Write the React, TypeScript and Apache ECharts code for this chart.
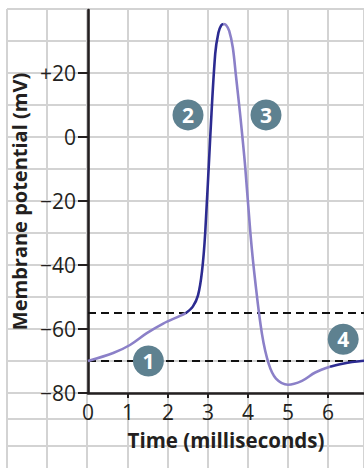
import React, { useEffect, useRef } from "react";
import * as echarts from "echarts";

// Membrane potential trace (time in ms, potential in mV), split by colour
const risingSlow: number[][] = [
  [0, -70], [0.63, -67.5], [1.05, -65], [1.47, -61.3], [1.88, -58.3], [2.3, -55.9], [2.45, -55],
];
const risingFast: number[][] = [
  [2.45, -55], [2.62, -53], [2.75, -49.5], [2.85, -42], [2.93, -30], [3.06, 1],
  [3.18, 26], [3.26, 32.6], [3.33, 34.9], [3.39, 35.3],
];
const falling: number[][] = [
  [3.39, 35.3], [3.45, 35], [3.53, 33.2], [3.62, 28], [3.7, 19], [3.81, 6.3], [3.93, -9.3],
  [4.06, -30], [4.18, -45], [4.35, -61.6], [4.52, -71], [4.7, -75.5],
  [5.0, -77.4], [5.35, -76.2], [5.68, -73.6], [6.05, -71.8],
];
const recovery: number[][] = [
  [6.05, -71.8], [6.3, -71], [6.6, -70.3], [6.9, -69.9],
];
const thresholdLine: number[][] = [[0, -55], [6.9, -55]];
const restingLine: number[][] = [[0, -70], [6.9, -70]];
const badges: (number | string)[][] = [
  [1.51, -70, "1"], [2.5, 6.9, "2"], [4.45, 6.9, "3"], [6.38, -63.2, "4"],
];
const xTickValues = [0, 1, 2, 3, 4, 5, 6];
const yTickValues = [-80, -60, -40, -20, 0, 20];

const LIGHT = "#8b80c8";
const DARK = "#2c2b91";
const INK = "#231f20";
const GRIDC = "#d3d3d3";
const FONT = "Open Sans";

export default function App() {
  const ref = useRef<HTMLDivElement>(null);
  useEffect(() => {
    if (!ref.current) return;
    const chart = echarts.init(ref.current, null, { renderer: "svg" });
    const lineS = (data: number[][], color: string) => ({
      type: "line",
      xAxisIndex: 2,
      yAxisIndex: 2,
      data,
      smooth: 0.35,
      showSymbol: false,
      symbol: "none",
      lineStyle: { color, width: 2.6 },
      z: 3,
    });
    const dashS = (data: number[][]) => ({
      type: "line",
      xAxisIndex: 2,
      yAxisIndex: 2,
      data,
      showSymbol: false,
      symbol: "none",
      lineStyle: { color: "#111", width: 2, type: [8, 5] },
      z: 2,
    });
    chart.setOption({
      animation: false,
      textStyle: { fontFamily: FONT },
      grid: [
        { left: 7, right: 0, top: 9, bottom: 0 },
        { left: 7, right: 0, top: 9, bottom: 75 },
        { left: 88, right: 0, top: 10, bottom: 75 },
      ],
      xAxis: [
        {
          gridIndex: 0, type: "value", min: -2, max: 6.9, interval: 1,
          axisLine: { show: false }, axisTick: { show: false }, axisLabel: { show: false },
          splitLine: { show: true, lineStyle: { color: GRIDC, width: 2 } },
        },
        {
          gridIndex: 1, type: "value", min: -2, max: 6.9, show: false,
        },
        {
          gridIndex: 2, type: "value", min: 0, max: 6.9, interval: 1,
          name: "Time (milliseconds)", nameLocation: "middle", nameGap: 36,
          nameTextStyle: { fontSize: 20.5, fontWeight: "bold", color: INK, fontFamily: FONT },
          axisLine: { show: true, onZero: false, lineStyle: { color: INK, width: 2.6 } },
          axisTick: { show: true, length: 5, lineStyle: { color: INK, width: 2 }, customValues: [1, 2, 3, 4, 5, 6] },
          axisLabel: { fontSize: 21, color: INK, margin: 8, customValues: xTickValues, fontFamily: FONT },
          splitLine: { show: false },
        },
      ],
      yAxis: [
        {
          gridIndex: 0, type: "value", min: 0, max: 1, show: false,
        },
        {
          gridIndex: 1, type: "value", min: -80, max: 40, interval: 10,
          axisLine: { show: false }, axisTick: { show: false }, axisLabel: { show: false },
          splitLine: { show: true, lineStyle: { color: GRIDC, width: 2 } },
        },
        {
          gridIndex: 2, type: "value", min: -80, max: 39.7, interval: 20,
          name: "Membrane potential (mV)", nameLocation: "middle", nameGap: 54,
          nameTextStyle: { fontSize: 20, fontWeight: "bold", color: INK, fontFamily: FONT },
          axisLine: { show: true, onZero: false, lineStyle: { color: INK, width: 2.6 } },
          axisTick: { show: true, length: 10, lineStyle: { color: INK, width: 2 }, customValues: yTickValues },
          axisLabel: {
            fontSize: 21, color: INK, margin: 12, customValues: yTickValues, fontFamily: FONT,
            formatter: (v: number) => (v > 0 ? "+" + v : v < 0 ? "\u2212" + Math.abs(v) : "0"),
          },
          splitLine: { show: false },
        },
      ],
      graphic: [
        { type: "line", shape: { x1: 7, y1: 419, x2: 364, y2: 419 }, style: { stroke: GRIDC, lineWidth: 2 }, z: -10 },
        { type: "line", shape: { x1: 7, y1: 446, x2: 364, y2: 446 }, style: { stroke: GRIDC, lineWidth: 2 }, z: -10 },
      ],
      series: [
        dashS(thresholdLine),
        dashS(restingLine),
        lineS(risingSlow, LIGHT),
        lineS(risingFast, DARK),
        lineS(falling, LIGHT),
        lineS(recovery, DARK),
        {
          type: "scatter",
          xAxisIndex: 2,
          yAxisIndex: 2,
          data: badges,
          symbolSize: 31,
          itemStyle: { color: "#5e8190", opacity: 1 },
          label: {
            show: true, position: "inside", color: "#fff", fontSize: 21, fontWeight: "bold",
            fontFamily: FONT, formatter: (p: any) => p.value[2],
          },
          z: 5,
        },
      ],
    });
    return () => chart.dispose();
  }, []);
  return <div ref={ref} style={{ position: "absolute", left: 0, top: 0, width: 364, height: 468 }} />;
}
